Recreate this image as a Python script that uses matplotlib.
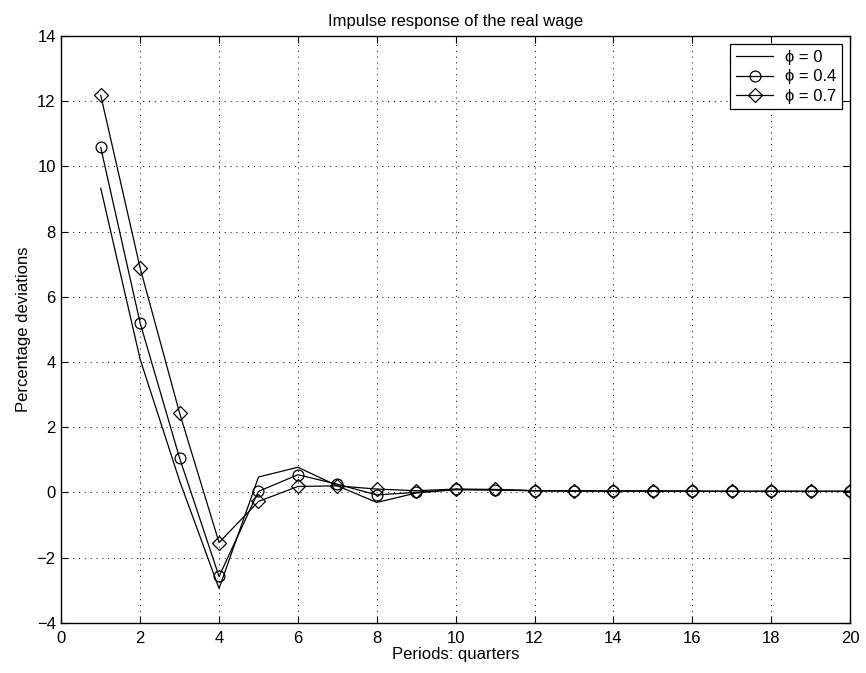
import matplotlib
matplotlib.use("Agg")
import matplotlib.pyplot as plt

periods = list(range(1, 21))
phi_0 = [9.33, 4.08, 0.35, -2.95, 0.47, 0.77, 0.20, -0.31, -0.02, 0.08,
         0.07, 0.05, 0.04, 0.04, 0.04, 0.03, 0.03, 0.03, 0.03, 0.03]
phi_04 = [10.58, 5.19, 1.05, -2.58, 0.03, 0.54, 0.25, -0.08, 0.00, 0.09,
          0.08, 0.05, 0.04, 0.04, 0.04, 0.03, 0.03, 0.03, 0.03, 0.03]
phi_07 = [12.18, 6.88, 2.43, -1.54, -0.28, 0.18, 0.20, 0.10, 0.05, 0.10,
          0.09, 0.05, 0.05, 0.04, 0.04, 0.04, 0.03, 0.03, 0.03, 0.03]
labels = ["ϕ = 0", "ϕ = 0.4", "ϕ = 0.7"]
title = "Impulse response of the real wage"
xlabel = "Periods: quarters"
ylabel = "Percentage deviations"

plt.rcParams['font.family'] = ['Liberation Sans', 'DejaVu Sans']
fs = 12

fig = plt.figure(figsize=(8.66, 6.73), dpi=100)
ax = fig.add_axes([0.0708, 0.0747, 0.9107, 0.8718])

lw = 0.9
ax.plot(periods, phi_0, color='black', lw=lw, label=labels[0])
ax.plot(periods, phi_04, color='black', lw=lw, marker='o', ms=7.8,
        mfc='none', mec='black', mew=0.9, label=labels[1])
ax.plot(periods, phi_07, color='black', lw=lw, marker='D', ms=7.0,
        mfc='none', mec='black', mew=0.9, label=labels[2])

ax.set_xlim(0, 20)
ax.set_ylim(-4, 14)
ax.set_xticks(range(0, 21, 2))
ax.set_yticks(range(-4, 15, 2))
ax.set_yticklabels([("\u2212" + str(-v)) if v < 0 else str(v) for v in range(-4, 15, 2)])
ax.grid(True, linestyle=(0, (1, 5)), color='black', lw=0.7)
ax.tick_params(direction='in', top=True, right=True, length=5, width=0.8,
               labelsize=fs)
ax.tick_params(axis='x', pad=6)
ax.tick_params(axis='y', pad=4)
for s in ax.spines.values():
    s.set_linewidth(1.0)

ax.set_title(title, fontsize=fs, pad=7)
ax.set_xlabel(xlabel, fontsize=fs, labelpad=1)
ax.set_ylabel(ylabel, fontsize=fs, labelpad=4)

leg = ax.legend(loc='upper right', fancybox=False, edgecolor='black',
                framealpha=1, fontsize=fs, handlelength=2.2,
                borderaxespad=0.5, borderpad=0.35, labelspacing=0.25,
                handletextpad=0.7)
leg.get_frame().set_linewidth(0.9)

fig.savefig("out.png", dpi=100)
